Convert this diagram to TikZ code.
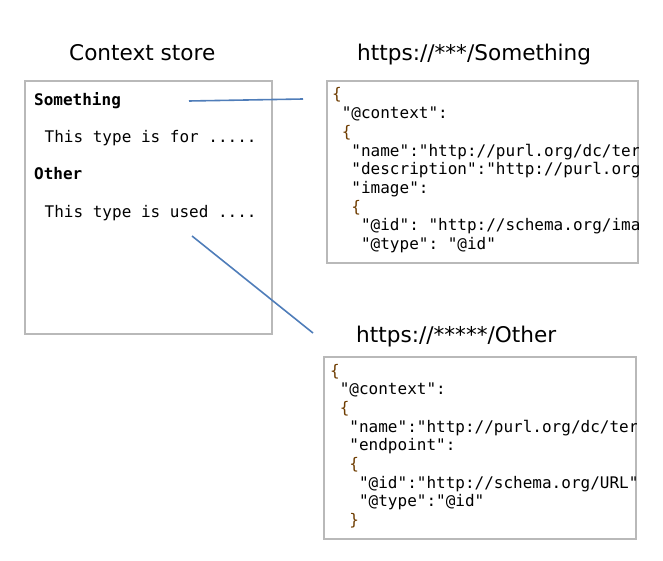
\documentclass[tikz,border=0pt]{standalone}
\usepackage{fontspec}
\setmainfont{DejaVu Sans}
\setmonofont{DejaVu Sans Mono}
\definecolor{boxgray}{RGB}{185,185,185}
\definecolor{linkblue}{RGB}{79,125,185}
\definecolor{bracebrown}{RGB}{110,60,0}
\begin{document}
\begin{tikzpicture}[x=1pt,y=-1pt,
  title/.style={font=\fontsize{21.6}{26}\selectfont, anchor=base west, inner sep=0pt},
  code/.style={font=\ttfamily\fontsize{16}{19}\selectfont, anchor=base west, inner sep=0pt},
  codeb/.style={font=\ttfamily\bfseries\fontsize{16}{19}\selectfont, anchor=base west, inner sep=0pt},
  brace/.style={code, text=bracebrown},
  boxframe/.style={draw=boxgray, line width=2pt, anchor=north west, inner sep=0pt},
  link/.style={draw=linkblue, line width=1.6pt}]
\useasboundingbox (0,0) rectangle (663,561);

% titles
\node[title] (t1) at (69,61) {Context store};
\node[title] (t2) at (357,61) {https://***/Something};
\node[title] (t3) at (356,342) {https://*****/Other};

% left box
\node[boxframe, minimum width=247pt, minimum height=253pt] (store) at (24,80) {};
\node[codeb] (s1) at (34,106) {Something};
\node[code] (s2) at (44.5,143) {This type is for .....};
\node[codeb] (s3) at (34,180) {Other};
\node[code] (s4) at (44.5,218) {This type is used ....};

% top right box
\node[boxframe, minimum width=311pt, minimum height=182pt] (ctx1) at (326,80) {};
\begin{scope}
\clip (ctx1.north west) rectangle ([xshift=-1pt]ctx1.south east);
\def\ox{332}\def\st{9.63}
\node[brace] (a1) at (\ox,100) {\{};
\node[code] (a2) at (\ox+\st,118.7) {"@context":};
\node[brace] (a3) at (\ox+\st,137.4) {\{};
\node[code] (a4) at (\ox+2*\st,156.1) {"name":"http://purl.org/dc/ter};
\node[code] (a5) at (\ox+2*\st,174.8) {"description":"http://purl.org};
\node[code] (a6) at (\ox+2*\st,193.5) {"image":};
\node[brace] (a7) at (\ox+2*\st,212.2) {\{};
\node[code] (a8) at (\ox+3*\st,230.9) {"@id": "http://schema.org/ima};
\node[code] (a9) at (\ox+3*\st,249.6) {"@type": "@id"};
\end{scope}

% bottom right box
\node[boxframe, minimum width=312pt, minimum height=182pt] (ctx2) at (323,356) {};
\begin{scope}
\clip (ctx2.north west) rectangle ([xshift=-1pt]ctx2.south east);
\def\ox{330}\def\st{9.63}
\node[brace] (b1) at (\ox,376) {\{};
\node[code] (b2) at (\ox+\st,394.7) {"@context":};
\node[brace] (b3) at (\ox+\st,413.4) {\{};
\node[code] (b4) at (\ox+2*\st,432.1) {"name":"http://purl.org/dc/ter};
\node[code] (b5) at (\ox+2*\st,450.8) {"endpoint":};
\node[brace] (b6) at (\ox+2*\st,469.5) {\{};
\node[code] (b7) at (\ox+3*\st,488.2) {"@id":"http://schema.org/URL"};
\node[code] (b8) at (\ox+3*\st,506.9) {"@type":"@id"};
\node[brace] (b9) at (\ox+2*\st,525.6) {\}};
\end{scope}

% connectors
\coordinate (l1a) at (189,101);
\coordinate (l1b) at (303,99);
\coordinate (l2a) at (192,236);
\coordinate (l2b) at (313,333);
\draw[link] (l1a) -- (l1b);
\draw[link] (l2a) -- (l2b);
\end{tikzpicture}
\end{document}
